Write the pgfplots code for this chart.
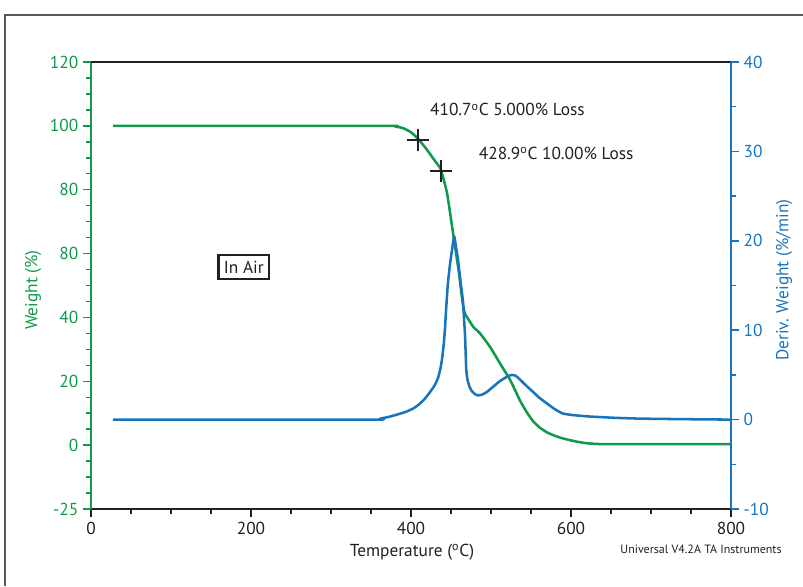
\documentclass[border=0pt]{standalone}
\usepackage{fontspec}
\setmainfont{PT Sans}
\usepackage{pgfplots}
\pgfplotsset{compat=1.18}

\definecolor{wgreen}{RGB}{16,154,72}
\definecolor{dblue}{RGB}{24,116,188}
\definecolor{ink}{RGB}{35,31,32}

\pgfplotstableread{
T W
27.5 100
367 100
380 99.8
390 99.3
400 98
409 95.9
420 92.5
430 89
437 86.5
445 79
452.5 66.5
460 53.9
464 45.5
467 41.5
470 40.1
478 37
486 35.1
499 30.7
511 25.7
524 20.4
536 14.1
545 10.2
553 7.4
561 5.5
570 4.0
580 2.9
590 2.1
605 1.2
620 0.6
645 0.3
800 0.3
}\weight

\pgfplotstableread{
T D
27.5 0
355 0
361 0.1
372 0.3
382.5 0.56
393 0.85
402.5 1.23
410 1.7
417 2.3
424 3.1
430 3.9
434 4.7
437 5.8
439 6.9
441 8.5
442.5 10.2
444 12.5
446 15.1
448.5 17.2
451 18.8
454 20.5
457 18.9
459 17.7
462 15.4
465 13.2
466.5 11
467.5 9.5
468.3 7.5
469 5.7
470 4.8
471 4.3
473.5 3.6
476 3.2
480 2.85
484 2.7
489 2.8
495 3.1
503 3.7
511 4.3
520 4.8
526 5.0
531 4.9
536 4.5
544 3.8
552.5 3.1
561 2.4
570 1.8
580 1.15
590 0.67
605 0.48
624 0.34
655 0.2
686 0.11
740 0.05
800 0
}\deriv

\begin{document}
\begin{tikzpicture}
\begin{scope}[x=0.75pt,y=0.75pt]
\path[use as bounding box] (-91,-77) rectangle (712,509);
\draw[ink!75,line width=1pt] (-86,-77) -- (-86,494) -- (712,494);
\end{scope}

% weight, left axis
\begin{axis}[
  scale only axis,
  width=480pt, height=335.25pt,
  xmin=0, xmax=800, ymin=-20, ymax=120,
  axis x line*=bottom, axis y line*=left,
  axis line style={-},
  x axis line style={ink, line width=1.5pt},
  y axis line style={wgreen, line width=1.5pt},
  xtick={0,200,...,800}, minor x tick num=3,
  ytick={-20,0,...,120}, yticklabels={-25,0,20,40,80,80,100,120},
  minor y tick num=3,
  tick align=outside,
  major tick length=6pt, minor tick length=3.5pt,
  x tick style={ink, line width=1.1pt},
  y tick style={wgreen, line width=1.1pt},
  /pgf/number format/assume math mode=true,
  ticklabel style={font=\fontsize{13}{15}\selectfont},
  xticklabel style={ink},
  yticklabel style={wgreen},
  clip=false,
]
\draw[ink, line width=1.5pt] (rel axis cs:0,1) -- (rel axis cs:1,1);
\addplot[wgreen, line width=1.9pt, line join=round, smooth, tension=0.3] table[x=T,y=W] {\weight};
\addplot[only marks, mark=+, mark size=8.5pt, mark options={ink, line width=1.5pt}]
  coordinates {(408.75,95.6) (437.5,85.9)};
\node[anchor=west, ink, font=\fontsize{13}{15}\selectfont] at (axis cs:418,105) {410.7\textsuperscript{o}C 5.000\% Loss};
\node[anchor=west, ink, font=\fontsize{13}{15}\selectfont] at (axis cs:479,91.5) {428.9\textsuperscript{o}C 10.00\% Loss};
\node[draw=ink, line width=1.6pt, ink, inner xsep=4pt, inner ysep=4.5pt, font=\fontsize{13}{15}\selectfont] at (axis cs:191,55.8) {In Air};
\end{axis}

% derivative, right axis
\begin{axis}[
  scale only axis,
  width=480pt, height=335.25pt,
  xmin=0, xmax=800, ymin=-10, ymax=40,
  axis x line=none, axis y line*=right,
  axis line style={-},
  y axis line style={dblue, line width=1.5pt},
  ytick={-10,0,...,40}, minor y tick num=1,
  tick align=outside,
  major tick length=6pt, minor tick length=3.5pt,
  y tick style={dblue, line width=1.1pt},
  /pgf/number format/assume math mode=true,
  ticklabel style={font=\fontsize{13}{15}\selectfont},
  yticklabel style={dblue},
]
\addplot[dblue, line width=1.9pt, line join=round, smooth, tension=0.25] table[x=T,y=D] {\deriv};
\end{axis}

\begin{scope}[x=0.75pt,y=0.75pt]
\node[ink, font=\fontsize{13}{15}\selectfont] at (321,-43) {Temperature (\textsuperscript{o}C)};
\node[wgreen, rotate=90, font=\fontsize{13}{15}\selectfont] at (-58,219) {Weight (\%)};
\node[dblue, rotate=90, font=\fontsize{13}{15}\selectfont] at (693,229) {Deriv. Weight (\%/min)};
\node[ink, font=\fontsize{9}{11}\selectfont] at (610,-40) {Universal V4.2A TA Instruments};
\end{scope}
\end{tikzpicture}
\end{document}
